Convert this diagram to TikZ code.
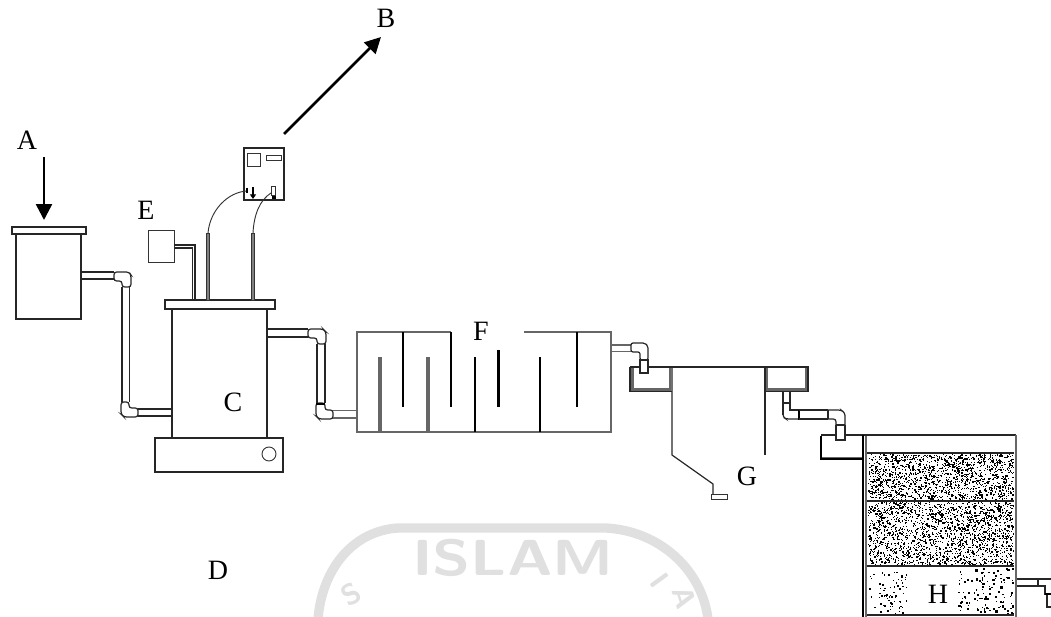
\documentclass[tikz,border=0pt]{standalone}
\usepackage{fontspec}
\setmainfont{Liberation Serif}
\usetikzlibrary{arrows.meta}
\definecolor{wm}{gray}{0.88}
\definecolor{wall}{gray}{0.4}
\tikzset{
  lbl/.style={inner sep=0pt,font=\fontsize{21}{24}\selectfont,text=black},
  wmtext/.style={inner sep=0pt,font=\fontsize{38}{42}\selectfont\sffamily\bfseries,text=wm},
  wmside/.style={inner sep=0pt,font=\fontsize{22}{24}\selectfont\sffamily\bfseries,text=wm},
  ln/.style={draw=black!85,line width=0.9pt},
  thin ln/.style={draw=black!80,line width=0.7pt},
  dbl/.style={draw=wall,line width=1.9pt},
  baffle/.style={draw=black,line width=1.8pt},
  gbaffle/.style={draw=wall,line width=2.3pt},
  bigarrow/.style={draw=black,line width=1.9pt,-{Triangle[length=12pt,width=12pt]}},
}
\newcommand{\stipple}[6]{%
  \foreach \ii in {1,...,#5}{%
    \pgfmathsetmacro\sx{#1+rnd*(#2-#1)}%
    \pgfmathsetmacro\sy{#3+rnd*(#4-#3)}%
    \pgfmathsetmacro\sw{#6*(0.6+rnd)}%
    \fill[black] (\sx,\sy) rectangle ++(\sw,\sw);
  }}
\begin{document}
\begin{tikzpicture}[x=0.75pt,y=-0.75pt]
\useasboundingbox (0,0) rectangle (1051,617);
\pgfmathsetseed{4242}
% watermark
\begin{scope}
\clip (0,0) rectangle (1051,617);
\draw[wm,line width=7pt,line cap=round] (318,619) .. controls (322,570) and (352,531) .. (398,528) -- (606,528) .. controls (660,531) and (702,570) .. (708,619);
\node[wmtext,xscale=1.23] (wmisl) at (513,558) {ISLAM};
\node[wmside,rotate=30] (wms) at (351,594) {S};
\node[wmside,rotate=-54] (wmi) at (660,580) {I};
\node[wmside,rotate=-72] (wma) at (684,598) {A};
\end{scope}
% tank A
\draw[ln] (12,227) rectangle (86,234);
\draw[ln] (16,234) rectangle (81,319);
% pipe A to C
\draw[ln] (81,272) -- (114,272) (81,279) -- (114,279);
\draw[ln,rounded corners=2pt] (114,272) -- (129,272) -- (131,275) -- (131,287) -- (122,287) -- (122,281) -- (114,281) -- cycle;
\draw[ln] (122,287) -- (122,402) (129.5,287) -- (129.5,402);
\draw[ln,rounded corners=2pt] (121,402) -- (129,402) -- (129,408) -- (138,408) -- (138,417) -- (124,417) -- (121,414) -- cycle;
\draw[ln] (138,409) -- (172,409) (138,416) -- (172,416);
% reactor C
\draw[ln] (165,300) rectangle (275,309);
\draw[ln] (172,309) rectangle (267,438);
\draw[ln] (155,438) rectangle (283,472);
\draw[thin ln] (269,454) circle (7);
% pipe C to F
\draw[ln] (267,329) -- (308,329) (267,337) -- (308,337);
\draw[ln,rounded corners=2pt] (308,329) -- (323,329) -- (326,332) -- (326,344) -- (317,344) -- (317,338) -- (308,338) -- cycle;
\draw[ln] (317,344) -- (317,403) (325,344) -- (325,403);
\draw[ln,rounded corners=2pt] (316,403) -- (325,403) -- (325,410) -- (333,410) -- (333,419) -- (319,419) -- (316,416) -- cycle;
\draw[line width=1.5pt] (316,403.5) -- (325,403.5);
\draw[draw=wall,line width=1.05pt] (333,410.5) -- (357,410.5) (333,418) -- (357,418);
% E box
\draw[thin ln] (148,230) rectangle (174,262);
\draw[ln] (174,245) -- (195,245) -- (195,300) (174,248) -- (192.5,248) -- (192.5,300);
% probes
\draw[draw=black!80,line width=0.6pt,fill=gray] (206.5,233) rectangle (209.5,300);
\draw[draw=black!80,line width=0.6pt,fill=gray] (251.5,233) rectangle (254.5,300);
% controller
\draw[ln] (244,148) rectangle (284,200);
\draw[thin ln] (247,153) rectangle (260,166);
\draw[thin ln] (266,155) rectangle (281,160);
\draw[thin ln] (208,233) .. controls (210,210) and (228,192) .. (247,191);
\draw[line width=1pt] (247,188) -- (247,193);
\draw[-{Triangle[length=3.5pt,width=4.5pt]},line width=1.3pt] (253,187) -- (253,199);
\draw[thin ln] (253,233) .. controls (254,214) and (260,200) .. (271,193);
\draw[draw=black!80,line width=0.5pt] (271.5,186) rectangle (275,195);
\draw[line width=1.6pt] (272,197.5) -- (276,197.5);
% arrows
\coordinate (aS) at (44,157);
\coordinate (aE) at (44,220);
\draw[bigarrow] (aS) -- (aE);
\coordinate (bS) at (284,134);
\coordinate (bE) at (381,37);
\draw[bigarrow] (bS) -- (bE);
% tank F
\draw[draw=wall,line width=1.3pt] (451,332) -- (357,332) -- (357,432) -- (611,432) -- (611,332) -- (524,332);
\draw[gbaffle] (380,357) -- (380,432);
\draw[baffle] (403,332) -- (403,407);
\draw[gbaffle] (428,357) -- (428,432);
\draw[baffle] (451,332) -- (451,407);
\draw[baffle] (475,357) -- (475,432);
\draw[baffle] (498.5,350) -- (498.5,407);
\draw[baffle] (540,357) -- (540,432);
\draw[baffle] (577,332) -- (577,407);
% pipe F to G
\draw[draw=wall,line width=1.05pt] (611,345) -- (631,345) (611,351.5) -- (631,351.5);
\draw[ln,rounded corners=1.5pt] (631,343) -- (645,343) -- (648,346) -- (648,360) -- (640,360) -- (640,352) -- (631,352) -- cycle;
\draw[ln] (640,360) rectangle (648,373);
% clarifier G
\draw[dbl] (632.5,368) -- (632.5,389.5) -- (670,389.5) -- (670,368);
\draw[ln] (630,367) -- (640,367) (648,367) -- (765,367);
\draw[ln] (630,367) -- (630,391.5) -- (672,391.5);
\draw[ln] (672,367) -- (672,455) -- (713,484) -- (713,494);
\draw[thin ln,fill=white] (711,494) rectangle (727,499);
\draw[ln] (765,367) -- (765,455);
\draw[dbl] (767,368) -- (767,389.5) -- (806,389.5) -- (806,368);
\draw[ln] (765,367) -- (808,367) -- (808,391.5) -- (765,391.5);
% pipe G to H
\draw[ln] (783,391) -- (783,415) (790,391) -- (790,410) -- (799,410);
\draw[ln] (783,403) -- (790,403);
\draw[ln,rounded corners=2pt] (783,410) -- (783,417) -- (786,419) -- (799,419);
\draw[line width=1.8pt] (799,409.5) -- (799,419.5);
\draw[ln] (799,410) -- (828,410) (799,419) -- (828,419) (828,410) -- (828,419);
\draw[ln,rounded corners=2pt] (828,410) -- (841,410) -- (845,413) -- (845,425) (836,425) -- (836,419) -- (828,419);
\draw[ln] (836,425) -- (845,425) (836,425) -- (836,440) -- (845,440) -- (845,425);
% H tank
\draw[line width=1.5pt] (821,436) -- (821,459) -- (862,459);
\draw[draw=wall,line width=1.2pt] (822,457.5) -- (862,457.5);
\draw[ln] (821,435) -- (836,435) (845,435) -- (1016,435);
\draw[line width=1.5pt] (862.5,435) -- (862.5,617);
\draw[draw=wall,line width=1.7pt] (866,436) -- (866,617);
\draw[draw=wall,line width=2.1pt] (1016,435) -- (1016,617);
% media
\stipple{868}{1013}{454}{499}{1500}{1.0}
\stipple{868}{1013}{502}{564}{1900}{1.0}
\stipple{868}{906}{568}{613}{70}{1.3}
\stipple{958}{1013}{568}{613}{120}{1.5}
\draw[ln] (867,453) -- (1014,453);
\draw[ln] (867,501) -- (1014,501);
\draw[ln] (867,566) -- (1014,566);
\draw[ln] (867,615) -- (1014,615);
% outlet
\draw[ln] (1017,579) -- (1051,579) (1017,586) -- (1038,586) -- (1038,579);
\draw[ln] (1038,586) -- (1045,586) -- (1045,594) -- (1051,594);
\draw[ln] (1047,594) -- (1047,607) -- (1051,607);
\draw[line width=1.5pt] (1045,594) -- (1051,594);
% labels
\node[lbl] (A) at (27,140) {A};
\node[lbl] (B) at (386,18) {B};
\node[lbl] (E) at (146,210) {E};
\node[lbl] (C) at (233,402) {C};
\node[lbl] (D) at (218,570) {D};
\node[lbl] (F) at (481,331) {F};
\node[lbl] (G) at (747,476) {G};
\node[lbl] (H) at (938,594) {H};
\end{tikzpicture}
\end{document}
